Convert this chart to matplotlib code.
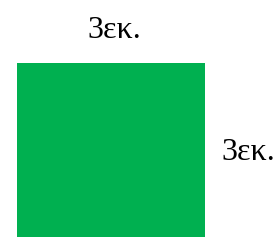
import matplotlib
matplotlib.use("Agg")
import matplotlib.pyplot as plt

side = [3]
top_label = "3εκ."
right_label = "3εκ."
color = "#00B050"

fig = plt.figure(figsize=(2.76, 2.42), dpi=100)
ax = fig.add_axes([17/276, 5/242, 188/276, 174/242])
ax.bar([0], side, width=side[0], align='edge', color=color, edgecolor='none')
ax.set_xlim(0, side[0])
ax.set_ylim(0, side[0])
ax.axis('off')

fam = ['Liberation Serif', 'DejaVu Serif']
ax.text(0.516, 1.144, top_label, transform=ax.transAxes, ha='center', va='baseline',
        fontsize=23, family=fam, clip_on=False)
ax.text(1.09, 0.483, right_label, transform=ax.transAxes, ha='left', va='center',
        fontsize=23, family=fam, clip_on=False)

fig.savefig("out.png", dpi=100)
